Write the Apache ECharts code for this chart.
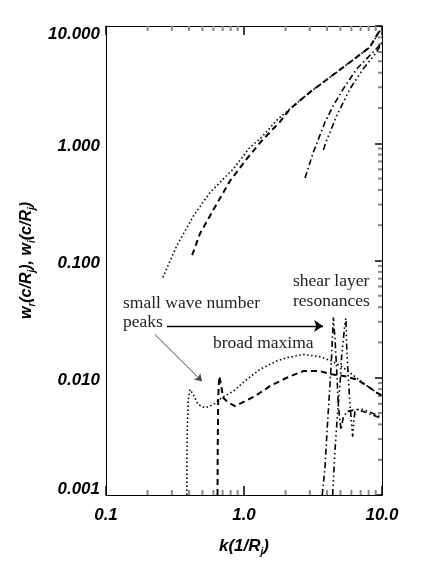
<!DOCTYPE html>
<html>
<head>
<meta charset="utf-8">
<script src="https://cdn.jsdelivr.net/npm/echarts@6/dist/echarts.min.js"></script>
<style>
html,body{margin:0;padding:0;background:#fff;}
#chart{width:435px;height:581px;}
</style>
</head>
<body>
<div id="chart"></div>
<script>
// ---------- data ----------
const X_MIN = 0.1, X_MAX = 10, Y_MIN = 0.001, Y_MAX = 10;
const xTickLabels = {'0.1':'0.1','1':'1.0','10':'10.0'};
const yTickLabels = ['0.001','0.010','0.100','1.000','10.000'];
const xMinorTicks = [0.2,0.3,0.4,0.5,0.6,0.7,0.8,0.9,2,3,4,5,6,7,8,9];
const yMinorTicks = [0.002,0.003,0.004,0.005,0.006,0.007,0.008,0.009,
                     0.02,0.03,0.04,0.05,0.06,0.07,0.08,0.09,
                     0.2,0.3,0.4,0.5,0.6,0.7,0.8,0.9,
                     2,3,4,5,6,7,8,9];

// dotted curve (real / upper branch)
const kDotUp = [0.258,0.325,0.430,0.568,0.836,1.105,1.306,1.754,2.15,3.01,4.70,6.56,8.18,9.68];
const wDotUp = [0.0716,0.133,0.240,0.381,0.603,0.925,1.088,1.60,1.96,2.73,4.04,5.43,6.62,9.1];
// dotted curve (imaginary / lower branch)
const kDotLo = [0.385,0.386,0.388,0.395,0.406,0.429,0.466,0.521,0.600,0.688,0.836,1.047,1.306,1.726,2.04,2.69,3.55,4.32,5.24,6.19,7.73,9.14,10];
const wDotLo = [0.001,0.002,0.00361,0.00653,0.00794,0.0072,0.0059,0.00554,0.0059,0.00675,0.00768,0.00967,0.0118,0.0139,0.0148,0.0158,0.0151,0.0139,0.0122,0.0105,0.00859,0.00748,0.00706];

// dashed curve
const kDashUp = [0.421,0.480,0.634,0.793,1.047,1.343,1.82,2.15,3.01,4.70,6.56,8.18,9.68];
const wDashUp = [0.111,0.170,0.303,0.479,0.735,1.05,1.52,1.96,2.73,4.04,5.43,6.62,9.3];
const kDashLo = [0.643,0.645,0.650,0.662,0.681,0.705,0.766,0.861,0.962,1.20,1.54,2.04,2.69,3.55,4.32,5.40,6.55,7.73,9.14,10];
const wDashLo = [0.001,0.00244,0.00653,0.0103,0.00877,0.00678,0.00615,0.00572,0.0061,0.00696,0.00848,0.0100,0.0114,0.0114,0.0107,0.0103,0.00967,0.00859,0.00748,0.00706];

// dash-dot curve
const kDDUp = [2.77,3.18,3.86,4.44,5.24,6.56,8.18,10];
const wDDUp = [0.506,0.838,1.51,2.10,2.91,4.31,5.61,7.2];
const kDDLo = [3.69,3.86,4.01,4.20,4.32,4.44,4.56,4.70,4.82,5.04,5.24,5.58,6.55,7.73,9.14,10];
const wDDLo = [0.001,0.0017,0.00374,0.00877,0.0158,0.0326,0.022,0.0114,0.0059,0.0036,0.00458,0.00515,0.00537,0.00504,0.00467,0.00449];

// dash-dot-dot-dot curve
const kD3Up = [3.76,3.96,4.70,5.86,7.31,9.14,10];
const wD3Up = [0.881,1.05,1.72,2.91,4.31,6.0,7.2];
const kD3Lo = [4.39,4.56,4.70,4.82,4.96,5.11,5.24,5.40,5.48,5.55,5.70,5.86,6.13,6.27,6.37,6.93,8.18,10];
const wD3Lo = [0.001,0.00236,0.00399,0.0059,0.00877,0.0158,0.0206,0.0303,0.0321,0.018,0.010,0.0059,0.00315,0.0044,0.00519,0.00547,0.00509,0.00458];

// annotation arrows (data coordinates)
const arrowRight = [[0.277,0.0276],[3.74,0.0276]];
const arrowDiag  = [[0.226,0.0234],[0.496,0.00935]];

// ---------- chart ----------
const zip = (a,b) => a.map((v,i)=>[v,b[i]]);
const AX_FONT = "'Liberation Sans', Arial, sans-serif";
const SERIF = "'Liberation Serif', 'Times New Roman', serif";

function line(k, w, dash, width){
  return {
    type:'line', data: zip(k,w), symbol:'none', silent:true, animation:false,
    lineStyle:{color:'#000', width:width, type:dash, cap:'butt'},
    clip:true
  };
}

function yLabel(v){
  const s = Number(v).toFixed(3);
  if (s === '10.000') return '{top|' + s + '}';
  if (s === '0.001') return '{bot|' + s + '}';
  return '{mid|' + s + '}';
}
const labelBase = {fontFamily:AX_FONT, fontWeight:'bold', fontStyle:'italic', fontSize:17, color:'#000'};

const chart = echarts.init(document.getElementById('chart'), null, {renderer:'canvas'});
const option = {
  backgroundColor:'#fff',
  animation:false,
  grid:{left:106, right:53, top:26, bottom:86, containLabel:false},
  xAxis:[{
    type:'log', logBase:10, min:X_MIN, max:X_MAX, position:'bottom',
    axisLine:{show:true, lineStyle:{color:'#000', width:1}},
    axisTick:{show:true, inside:true, length:9, lineStyle:{color:'#000', width:1.5}},
    splitLine:{show:false}, minorTick:{show:false},
    axisLabel:{show:true, margin:12, formatter:(v)=>xTickLabels[String(Math.round(v*10)/10)] || '', ...labelBase},
    name:'{b|k(1/R}{s|j}{b|)}', nameLocation:'middle', nameGap:40,
    nameTextStyle:{rich:{
      b:{...labelBase, fontSize:17, lineHeight:22},
      s:{...labelBase, fontSize:10, lineHeight:10, verticalAlign:'bottom'}
    }}
  },{
    type:'log', logBase:10, min:X_MIN, max:X_MAX, position:'top',
    axisLine:{show:true, lineStyle:{color:'#000', width:1}},
    axisTick:{show:true, inside:true, length:9, lineStyle:{color:'#000', width:1.5}},
    axisLabel:{show:false}, splitLine:{show:false}
  }],
  yAxis:[{
    type:'log', logBase:10, min:Y_MIN, max:Y_MAX, position:'left',
    axisLine:{show:true, lineStyle:{color:'#000', width:1}},
    axisTick:{show:false},
    splitLine:{show:false},
    axisLabel:{show:true, margin:6, formatter:yLabel, rich:{
      top:{...labelBase, padding:[17,0,0,0]},
      mid:{...labelBase, padding:[6,0,0,0]},
      bot:{...labelBase, padding:[0,0,12,0]}
    }},
    name:'{b|w}{s|r}{b|(c/R}{s|j}{b|), w}{s|i}{b|(c/R}{s|j}{b|)}', nameLocation:'middle', nameGap:68, nameRotate:90,
    nameTextStyle:{rich:{
      b:{...labelBase, fontSize:16, lineHeight:22},
      s:{...labelBase, fontSize:10, lineHeight:10, verticalAlign:'bottom'}
    }}
  },{
    type:'log', logBase:10, min:Y_MIN, max:Y_MAX, position:'right',
    axisLine:{show:true, lineStyle:{color:'#000', width:1}},
    axisTick:{show:true, inside:true, length:7, lineStyle:{color:'#000', width:1.5}},
    axisLabel:{show:false}, splitLine:{show:false}
  }],
  series:[
    // minor ticks on x (bottom and top)
    {
      type:'custom', silent:true, animation:false, clip:false,
      data: xMinorTicks.map(v=>[v, Y_MIN]),
      renderItem:(params, api)=>{
        const v = api.value(0);
        const pb = api.coord([v, Y_MIN]);
        const pt = api.coord([v, Y_MAX]);
        const st = {stroke:'#888', lineWidth:2};
        return {type:'group', children:[
          {type:'line', shape:{x1:pb[0], y1:pb[1], x2:pb[0], y2:pb[1]-5}, style:st},
          {type:'line', shape:{x1:pt[0], y1:pt[1], x2:pt[0], y2:pt[1]+5}, style:st}
        ]};
      }
    },
    // minor ticks on y (right side)
    {
      type:'custom', silent:true, animation:false, clip:false,
      data: yMinorTicks.map(v=>[X_MAX, v]),
      renderItem:(params, api)=>{
        const v = api.value(1);
        const p = api.coord([X_MAX, v]);
        return {type:'line', shape:{x1:p[0], y1:p[1], x2:p[0]-4, y2:p[1]}, style:{stroke:'#888', lineWidth:2}};
      }
    },
    Object.assign(line(kDotUp, wDotUp, [1.5,2.5], 1.6), {
      markLine:{
        silent:true, animation:false, symbol:['none','arrow'], symbolSize:9,
        label:{show:false},
        data:[
          [{coord:arrowRight[0], lineStyle:{color:'#000', width:1.3, type:'solid'}},{coord:arrowRight[1]}],
          [{coord:arrowDiag[0], lineStyle:{color:'#444', width:1, type:'solid'}, symbolSize:7},{coord:arrowDiag[1], symbolSize:7}]
        ]
      }
    }),
    line(kDotLo, wDotLo, [1.5,2.5], 1.6),
    line(kDashUp, wDashUp, [6,4], 2),
    line(kDashLo, wDashLo, [6,4], 2),
    line(kDDUp, wDDUp, [6,3,1.5,3], 1.6),
    line(kDDLo, wDDLo, [6,3,1.5,3], 1.6),
    line(kD3Up, wD3Up, [6,3,1.5,3,1.5,3,1.5,3], 1.6),
    line(kD3Lo, wD3Lo, [6,3,1.5,3,1.5,3,1.5,3], 1.6)
  ],
  graphic:[
    {type:'text', left:123, top:294, silent:true, style:{text:'small wave number', font:'17.5px '+SERIF, fill:'#222'}},
    {type:'text', left:123, top:313, silent:true, style:{text:'peaks', font:'17.5px '+SERIF, fill:'#222'}},
    {type:'text', left:213, top:334, silent:true, style:{text:'broad maxima', font:'17.5px '+SERIF, fill:'#222'}},
    {type:'text', left:293, top:272, silent:true, style:{text:'shear layer', font:'17.5px '+SERIF, fill:'#222'}},
    {type:'text', left:293, top:292, silent:true, style:{text:'resonances', font:'17.5px '+SERIF, fill:'#222'}}
  ]
};
chart.setOption(option);
</script>
</body>
</html>
